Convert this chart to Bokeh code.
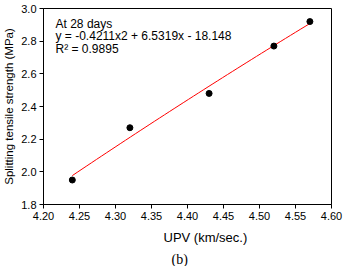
from bokeh.plotting import figure
from bokeh.models import Range1d, FixedTicker, Label, Title, NumeralTickFormatter
from bokeh.embed import file_html
from bokeh.resources import INLINE
import numpy as np

upv = [4.24, 4.32, 4.43, 4.52, 4.57]
strength = [1.95, 2.27, 2.48, 2.77, 2.92]
coef = [-0.4211, 6.5319, -18.148]
x_ticks = [4.20, 4.25, 4.30, 4.35, 4.40, 4.45, 4.50, 4.55, 4.60]
y_ticks = [1.8, 2.0, 2.2, 2.4, 2.6, 2.8, 3.0]
annot = ["At 28 days", "y = -0.4211x2 + 6.5319x - 18.148", "R\u00b2 = 0.9895"]

FONT = "Liberation Sans"

p = figure(width=347, height=267, output_backend="svg", toolbar_location=None,
           x_range=Range1d(4.20, 4.60), y_range=Range1d(1.8, 3.0),
           min_border_left=44, min_border_right=15, min_border_top=9, min_border_bottom=10)
p.styles = {"margin-left": "-1px", "margin-top": "-1px"}
p.xgrid.visible = False
p.ygrid.visible = False
p.outline_line_color = "black"
p.outline_line_width = 1
p.background_fill_color = "white"
p.border_fill_color = "white"

for ax in (p.xaxis[0], p.yaxis[0]):
    ax.axis_line_color = "black"
    ax.major_tick_line_color = "black"
    ax.major_tick_in = 0
    ax.major_tick_out = 4
    ax.minor_tick_line_color = None
    ax.major_label_text_font = FONT
    ax.major_label_text_font_size = "11px"
    ax.major_label_text_color = "black"
    ax.axis_label_text_font = FONT
    ax.axis_label_text_font_style = "normal"
    ax.axis_label_text_color = "black"

p.xaxis.ticker = FixedTicker(ticks=x_ticks)
p.yaxis.ticker = FixedTicker(ticks=y_ticks)
p.xaxis.formatter = NumeralTickFormatter(format="0.00")
p.yaxis.formatter = NumeralTickFormatter(format="0.0")
p.xaxis.major_label_standoff = 3
p.yaxis.major_label_standoff = 3
p.yaxis.axis_label = "Splitting tensile strength (MPa)"
p.yaxis.axis_label_text_font_size = "11.5px"
p.yaxis.axis_label_standoff = 3

p.add_layout(Title(text="UPV (km/sec.)", align="left", offset=120, text_font=FONT,
                   text_font_size="13px", text_font_style="normal", text_color="black",
                   standoff=10), "below")
p.add_layout(Title(text="(b)", align="left", offset=128, text_font="Liberation Serif",
                   text_font_size="14px", text_font_style="normal", text_color="black",
                   standoff=0), "below")

# trend line from displayed equation
tx = np.linspace(min(upv), max(upv), 50)
ty = coef[0] * tx**2 + coef[1] * tx + coef[2]
p.line(tx, ty, line_color="red", line_width=1)

p.scatter(upv, strength, size=6, fill_color="black", line_color="black")

ys = [2.903, 2.830, 2.752]
for t, yy in zip(annot, ys):
    p.add_layout(Label(x=4.2167, y=yy, text=t, text_font=FONT, text_font_size="12px",
                       text_baseline="middle", text_align="left", text_color="black"))

open("out.html", "w").write(file_html(p, INLINE))
